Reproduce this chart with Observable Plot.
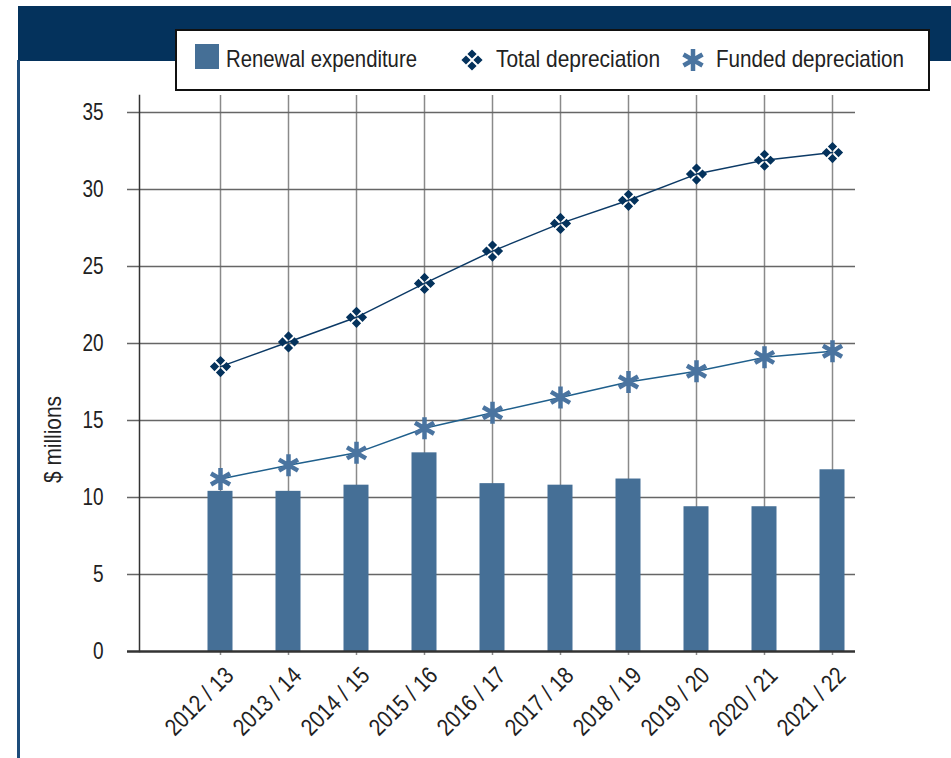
<!DOCTYPE html>
<html>
<head>
<meta charset="utf-8">
<script src="https://cdn.jsdelivr.net/npm/d3@7"></script>
<script src="https://cdn.jsdelivr.net/npm/@observablehq/plot@0.6"></script>
<style>
  html, body { margin: 0; padding: 0; background: #fff; }
  #wrap { position: relative; width: 951px; height: 758px; overflow: hidden; background: #fff;
          font-family: "Liberation Sans", Arial, sans-serif; }
  #band { position: absolute; left: 18px; top: 6px; right: 0; height: 55px; background: #04325c; }
  #border { position: absolute; left: 17px; top: 60px; width: 2.5px; height: 700px; background: #1d4c7a; }
  #legend { position: absolute; left: 175px; top: 29px; width: 755px; height: 62px; box-sizing: border-box;
            border: 2px solid #111; background: #fff; }
  .lg { position: absolute; font-size: 24px; color: #222; line-height: 30px; top: 44px; white-space: nowrap;
        display: inline-block; transform-origin: 0 50%; }
  .sw { position: absolute; }
  #chart { position: absolute; left: 0; top: 92px; }
</style>
</head>
<body>
<div id="wrap">
  <div id="chart"></div>
  <div id="band"></div>
  <div id="border"></div>
  <div id="legend"></div>
  <svg class="sw" style="left:195px;top:44px" width="24" height="25"><rect width="24" height="25" fill="#456f96"/></svg>
  <div class="lg" style="left:226px" data-w="191">Renewal expenditure</div>
  <svg class="sw" style="left:460px;top:48px" width="24" height="24" id="sw2"></svg>
  <div class="lg" style="left:496px" data-w="164">Total depreciation</div>
  <svg class="sw" style="left:681px;top:48px" width="24" height="24" id="sw3"></svg>
  <div class="lg" style="left:716px" data-w="188">Funded depreciation</div>
</div>
<script>
const years = ["2012 / 13", "2013 / 14", "2014 / 15", "2015 / 16", "2016 / 17",
               "2017 / 18", "2018 / 19", "2019 / 20", "2020 / 21", "2021 / 22"];
const renewal   = [10.4, 10.4, 10.8, 12.9, 10.9, 10.8, 11.2, 9.4, 9.4, 11.8];
const totalDep  = [18.5, 20.1, 21.7, 23.9, 26.0, 27.8, 29.3, 31.0, 31.9, 32.4];
const fundedDep = [11.2, 12.1, 12.9, 14.5, 15.5, 16.5, 17.5, 18.2, 19.1, 19.5];
const yTicks = [0, 5, 10, 15, 20, 25, 30, 35];

const NAVY = "#04325c";
const STEEL = "#456f96";

// custom marker: four small diamonds in a cross
const clover = {
  draw(ctx) {
    const o = 6, h = 4.6;
    for (const [cx, cy] of [[0, -o], [o, 0], [0, o], [-o, 0]]) {
      ctx.moveTo(cx, cy - h); ctx.lineTo(cx + h, cy); ctx.lineTo(cx, cy + h); ctx.lineTo(cx - h, cy); ctx.closePath();
    }
  }
};
// custom marker: six-armed asterisk
const star = {
  draw(ctx) {
    const r = 11, t = r / 2, u = t * Math.sqrt(3);
    ctx.moveTo(0, r); ctx.lineTo(0, -r);
    ctx.moveTo(-u, -t); ctx.lineTo(u, t);
    ctx.moveTo(-u, t); ctx.lineTo(u, -t);
  }
};

const rows = years.map((y, i) => ({year: y, renewal: renewal[i], total: totalDep[i], funded: fundedDep[i]}));

const chart = Plot.plot({
  width: 951,
  height: 666,
  marginLeft: 139,
  marginRight: 96,
  marginTop: 3,
  marginBottom: 107,
  style: {fontFamily: '"Liberation Sans", Arial, sans-serif', color: "#222", background: "transparent"},
  x: {type: "band", domain: years, range: [185, 866], padding: 0},
  y: {domain: [0, 35], range: [559, 20]},
  marks: [
    Plot.ruleX(years, {x: d => d, stroke: "#8a8a8a", strokeWidth: 1.5, insetBottom: -4}),
    Plot.ruleY(yTicks.filter(d => d > 0), {y: d => d, stroke: "#666", strokeWidth: 1.5, insetLeft: -12}),
    Plot.frame({anchor: "left", stroke: "#333", strokeWidth: 1.5}),
    Plot.barY(rows, {x: "year", y: "renewal", fill: STEEL, insetLeft: 21.5, insetRight: 21.5}),
    Plot.ruleY([0], {stroke: "#333", strokeWidth: 2.5, insetLeft: -12}),
    Plot.line(rows, {x: "year", y: "total", stroke: "#0c3a66", strokeWidth: 1.5}),
    Plot.line(rows, {x: "year", y: "funded", stroke: "#1f5f8c", strokeWidth: 1.5}),
    Plot.dot(rows, {x: "year", y: "total", symbol: clover, fill: NAVY, stroke: "none", r: 5}),
    Plot.dot(rows, {x: "year", y: "funded", symbol: star, fill: "none", stroke: "#4a74a0", strokeWidth: 4.5, r: 5}),
    Plot.axisY({ticks: yTicks, tickSize: 0, tickPadding: 36, fontSize: 24, label: null, className: "ay"}),
    Plot.axisX({tickRotate: -45, tickSize: 0, tickPadding: 20, dx: 9, fontSize: 24, label: null, className: "ax"}),
    Plot.text(["$ millions"], {frameAnchor: "left", textAnchor: "middle", dx: -86, dy: 66, rotate: -90, fontSize: 24, fill: "#222", className: "yl"})
  ]
});
document.getElementById("chart").appendChild(chart);

// emulate a condensed typeface by narrowing glyphs
function condense(sel, factor) {
  chart.querySelectorAll(sel).forEach(t => {
    const w = t.getComputedTextLength();
    t.setAttribute("textLength", (w * factor).toFixed(1));
    t.setAttribute("lengthAdjust", "spacingAndGlyphs");
  });
}
condense(".ay text", 0.79);
condense(".ax text", 0.85);
chart.querySelectorAll(".yl text").forEach(t => {
  const tr = t.getAttribute("transform") || "";
  t.setAttribute("transform", tr + " scale(0.87,1)");
});

document.querySelectorAll(".lg").forEach(el => {
  const w = el.getBoundingClientRect().width;
  el.style.transform = `scaleX(${(+el.dataset.w / w).toFixed(3)})`;
});

// legend swatches
function drawSym(id, sym, attrs) {
  const svg = d3.select("#" + id);
  const p = d3.path(); sym.draw(p);
  const path = svg.append("path").attr("d", p.toString()).attr("transform", "translate(12,12)");
  for (const k in attrs) path.attr(k, attrs[k]);
}
drawSym("sw2", clover, {fill: NAVY});
drawSym("sw3", star, {fill: "none", stroke: "#4a74a0", "stroke-width": 4.5});
</script>
</body>
</html>
